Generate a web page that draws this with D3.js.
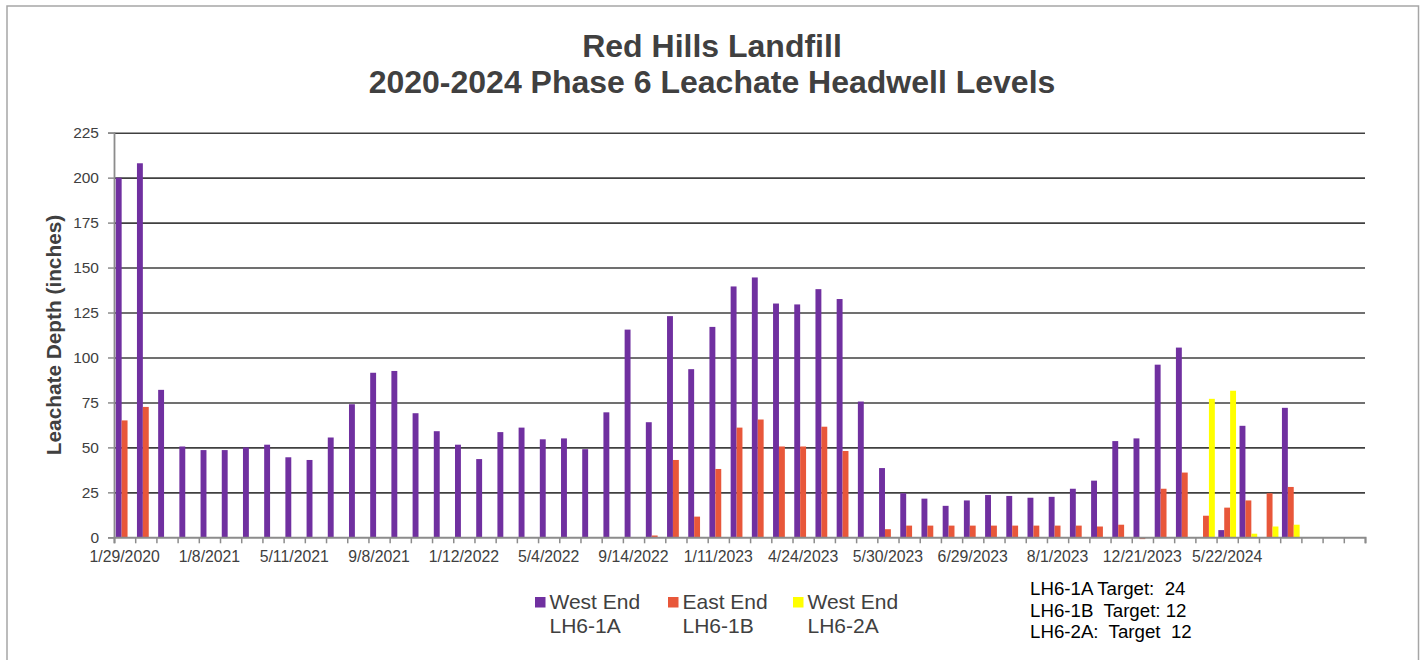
<!DOCTYPE html>
<html>
<head>
<meta charset="utf-8">
<script src="https://cdn.jsdelivr.net/npm/d3@7"></script>
<style>
  body { margin: 0; background: #fff; }
  svg text { font-family: "Liberation Sans", Arial, sans-serif; }
</style>
</head>
<body>
<div id="chart"></div>
<script>
const w = 1421;
const h = 660;
const plot = {left: 114, right: 1365, top: 132.7, bottom: 537.3};

// category slots (59 in the sheet), only every 4th has a visible label
const nCategories = 59;
const tickLabels = ['1/29/2020', '1/8/2021', '5/11/2021', '9/8/2021', '1/12/2022', '5/4/2022',
  '9/14/2022', '1/11/2023', '4/24/2023', '5/30/2023', '6/29/2023', '8/1/2023', '12/21/2023', '5/22/2024', ''];

const westEnd1A = [200, 208, 82, 50.5, 48.5, 48.5, 50, 51.5, 44.5, 43,
  55.5, 74, 91.5, 92.5, 69, 59, 51.5, 43.5, 58.5, 61,
  54.5, 55, 49, 69.5, 115.5, 64, 123, 93.5, 117, 139.5,
  144.5, 130, 129.5, 138, 132.5, 75.5, 38.5, 24.5, 21.5, 17.5,
  20.5, 23.5, 23, 22, 22.5, 27, 31.5, 53.5, 55, 96,
  105.5, null, 4, 62, null, 72, null, null, null];

const eastEnd1B = [65, 72.5, null, null, null, null, null, null, null, null,
  null, null, null, null, null, null, null, null, null, null,
  null, null, null, null, null, 1, 43, 11.5, 38, 61,
  65.5, 50.5, 50.5, 61.5, 48, null, 4.5, 6.5, 6.5, 6.5,
  6.5, 6.5, 6.5, 6.5, 6.5, 6.5, 6, 7, -1, 27,
  36, 12, 16.5, 20.5, 24.5, 28, null, null, null];

const westEnd2A = [null, null, null, null, null, null, null, null, null, null,
  null, null, null, null, null, null, null, null, null, null,
  null, null, null, null, null, null, null, null, null, null,
  null, null, null, null, null, null, null, null, null, null,
  null, null, null, null, null, null, null, null, null, null,
  null, 77, 81.5, 2, 6, 7, null, null, null];

const seriesNames = [['West End', 'LH6-1A'], ['East End', 'LH6-1B'], ['West End', 'LH6-2A']];
const seriesColors = ['#7030a0', '#e8573a', '#ffff00'];
const targetLines = ['LH6-1A Target:  24', 'LH6-1B  Target: 12', 'LH6-2A:  Target  12'];

const svg = d3.select('#chart').append('svg')
  .attr('width', w)
  .attr('height', h);

// outer chart border
svg.append('rect')
  .attr('x', 7).attr('y', 6)
  .attr('width', 1411.5).attr('height', 700)
  .attr('fill', 'none').attr('stroke', '#a6a6a6').attr('stroke-width', 1.5);

const cats = d3.range(nCategories);
const x0 = d3.scaleBand().domain(cats).range([plot.left, plot.right])
  .paddingInner(0.165).paddingOuter(0.0825);
const x1 = d3.scaleBand().domain([0, 1, 2]).range([0, x0.bandwidth()]);
const xEdge = d3.scaleLinear().domain([0, nCategories]).range([plot.left, plot.right]);
const y = d3.scaleLinear().domain([0, 225]).range([plot.bottom, plot.top]);

// gridlines
svg.append('g')
  .attr('transform', `translate(${plot.left},0)`)
  .call(d3.axisLeft(y).tickValues(d3.range(25, 226, 25)).tickSize(-(plot.right - plot.left)).tickFormat(''))
  .call(g => g.select('.domain').remove())
  .call(g => g.selectAll('line').attr('stroke', '#404040').attr('stroke-width', 1.6));

// y axis
svg.append('g')
  .attr('transform', `translate(${plot.left},0)`)
  .call(d3.axisLeft(y).tickValues(d3.range(0, 226, 25)).tickSize(6).tickPadding(9))
  .call(g => g.select('.domain').attr('stroke', '#8c8c8c').attr('stroke-width', 1.8))
  .call(g => g.selectAll('line').attr('stroke', '#8c8c8c').attr('stroke-width', 1.5))
  .call(g => g.selectAll('text').attr('font-size', 15.5).attr('fill', '#404040')
    .attr('font-family', '"Liberation Sans", Arial, sans-serif'));

// bars
const series = [westEnd1A, eastEnd1B, westEnd2A];
series.forEach((vals, s) => {
  svg.append('g').selectAll('rect')
    .data(vals.map((v, i) => ({i, v})).filter(d => d.v !== null))
    .enter()
    .append('rect')
    .attr('x', d => x0(d.i) + x1(s))
    .attr('y', d => Math.min(y(d.v), y(0)))
    .attr('width', x1.bandwidth())
    .attr('height', d => Math.abs(y(0) - y(d.v)))
    .attr('fill', seriesColors[s]);
});

// x axis: boundary ticks
svg.append('g')
  .attr('transform', `translate(0,${plot.bottom})`)
  .call(d3.axisBottom(xEdge).tickValues(d3.range(0, nCategories + 1)).tickSize(6).tickFormat(''))
  .call(g => g.select('.domain').attr('stroke', '#8c8c8c').attr('stroke-width', 2))
  .call(g => g.selectAll('line').attr('stroke', '#8c8c8c').attr('stroke-width', 1.5));

// x axis labels, every 4th category
svg.append('g')
  .attr('transform', `translate(0,${plot.bottom})`)
  .call(d3.axisBottom(x0).tickValues(d3.range(0, nCategories, 4)).tickSize(0).tickPadding(13)
    .tickFormat((d, i) => tickLabels[i]))
  .call(g => g.select('.domain').remove())
  .call(g => g.selectAll('text').attr('font-size', 15.8).attr('fill', '#404040')
    .attr('font-family', '"Liberation Sans", Arial, sans-serif'));

// title
svg.append('text')
  .attr('x', 712).attr('y', 56.5)
  .attr('text-anchor', 'middle')
  .attr('font-size', 32).attr('font-weight', 'bold').attr('fill', '#404040')
  .text('Red Hills Landfill');
svg.append('text')
  .attr('x', 712).attr('y', 92.5)
  .attr('text-anchor', 'middle')
  .attr('font-size', 32).attr('font-weight', 'bold').attr('fill', '#404040')
  .text('2020-2024 Phase 6 Leachate Headwell Levels');

// y axis title
svg.append('text')
  .attr('transform', `translate(61,${(plot.top + plot.bottom) / 2}) rotate(-90)`)
  .attr('text-anchor', 'middle')
  .attr('font-size', 20.8).attr('font-weight', 'bold').attr('fill', '#404040')
  .text('Leachate Depth (inches)');

// legend
const legendX = [535, 668, 793];
const legend = svg.append('g');
seriesNames.forEach((names, s) => {
  legend.append('rect')
    .attr('x', legendX[s]).attr('y', 597)
    .attr('width', 10.5).attr('height', 10.5)
    .attr('fill', seriesColors[s]);
  names.forEach((t, k) => {
    legend.append('text')
      .attr('x', legendX[s] + 14.5).attr('y', 609 + k * 24)
      .attr('font-size', 21).attr('fill', '#404040')
      .text(t);
  });
});

// target notes
targetLines.forEach((t, k) => {
  svg.append('text')
    .attr('x', 1030).attr('y', 595 + k * 21.5)
    .attr('font-size', 18.7).attr('fill', '#000')
    .style('white-space', 'pre')
    .text(t);
});
</script>
</body>
</html>
